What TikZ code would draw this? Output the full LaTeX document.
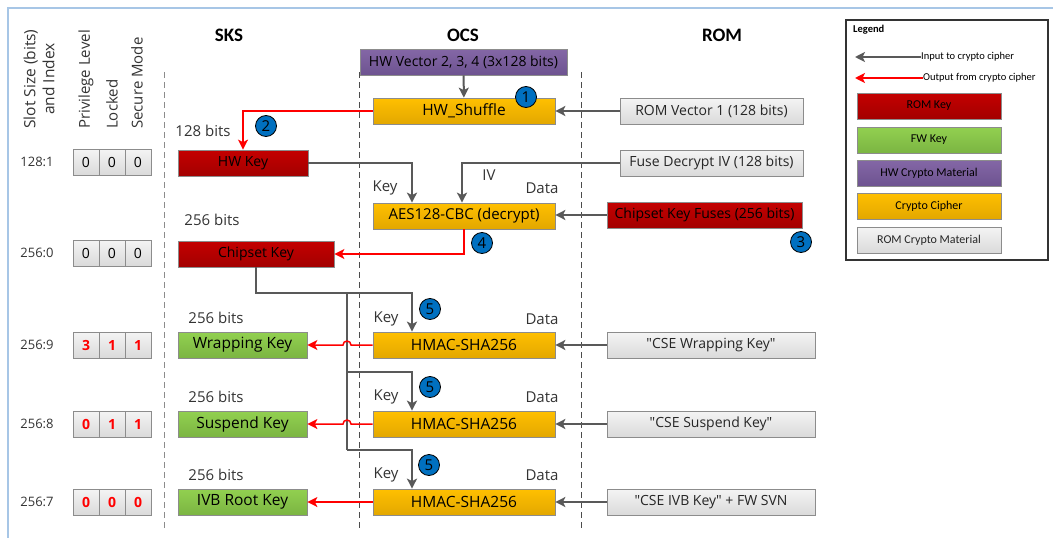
\documentclass[tikz,border=0pt]{standalone}
\usepackage{fontspec}
\setmainfont{Open Sans}
\newfontfamily\calib{Carlito}
\newfontfamily\plainfont{Open Sans}[Ligatures=TeXOff]
\usetikzlibrary{arrows.meta}
\definecolor{orngA}{HTML}{FFC000}
\definecolor{orngB}{HTML}{E3A700}
\definecolor{redA}{HTML}{C40000}
\definecolor{redB}{HTML}{A30000}
\definecolor{grnA}{HTML}{92D050}
\definecolor{grnB}{HTML}{7BB542}
\definecolor{purA}{HTML}{8467A6}
\definecolor{purB}{HTML}{6D5390}
\definecolor{gryA}{HTML}{F4F4F4}
\definecolor{gryB}{HTML}{DADADA}
\definecolor{badgeblue}{HTML}{0070C0}
\definecolor{arrowgray}{HTML}{595959}
\definecolor{framebl}{HTML}{A7C6E6}
\newcommand{\dq}{{\plainfont\symbol{34}}}
\begin{document}
\begin{tikzpicture}[x=1pt,y=-1pt]
        \tikzstyle{box}=[draw=black!45,line width=0.7pt,inner sep=0pt,minimum height=26pt,font=\fontsize{14}{16}\selectfont]
        \tikzstyle{cipher}=[box,top color=orngA,bottom color=orngB,minimum width=182pt,font=\fontsize{15.5}{18}\selectfont]
        \tikzstyle{romkey}=[box,top color=redA,bottom color=redB,text=black]
        \tikzstyle{fwkey}=[box,top color=grnA,bottom color=grnB,minimum width=129pt,font=\fontsize{15.5}{18}\selectfont]
        \tikzstyle{hwmat}=[box,top color=purA,bottom color=purB]
        \tikzstyle{rommat}=[box,top color=gryA,bottom color=gryB,text=black!85]
        \tikzstyle{flag}=[box,top color=gryA,bottom color=gryB,minimum width=26pt]
        \tikzstyle{hot}=[text=red,font=\fontsize{14}{16}\selectfont\bfseries]
        \tikzstyle{lbl}=[inner sep=0pt,font=\fontsize{15}{18}\selectfont,text=black!80]
        \tikzstyle{rowlbl}=[inner sep=0pt,font=\fontsize{13}{15}\selectfont,text=black!80]
        \tikzstyle{colhdr}=[inner sep=0pt,font=\calib\bfseries\fontsize{19}{22}\selectfont]
        \tikzstyle{vhdr}=[rotate=90,anchor=west,inner sep=0pt,font=\fontsize{15}{17}\selectfont,text=black!80]
        \tikzstyle{badge}=[circle,draw=black,line width=0.8pt,fill=badgeblue,minimum size=21pt,inner sep=0pt,font=\fontsize{15}{17}\selectfont]
        \tikzstyle{inarrow}=[draw=arrowgray,line width=2pt,-{Stealth[length=10pt,width=10pt,inset=2.5pt]}]
        \tikzstyle{outarrow}=[draw=red,line width=1.5pt,-{Stealth[length=10pt,width=10pt,inset=2.5pt]}]
        \tikzstyle{feed}=[draw=arrowgray,line width=2pt]
        \tikzstyle{lane}=[draw=black!70,line width=0.8pt,dash pattern=on 6pt off 4pt]
        \tikzstyle{legtxt}=[inner sep=0pt,font=\calib\fontsize{10.5}{12}\selectfont]
        \tikzstyle{legbox}=[minimum width=144pt,font=\calib\fontsize{12}{14}\selectfont]
        \useasboundingbox (0,0) rectangle (1053,538);
        \draw[framebl,line width=2pt] (8,538) -- (8,8) -- (1053,8);
        \draw[lane,draw=black!45] (164,72) -- (164,528);
        \draw[lane] (359,72) -- (359,528);
        \draw[lane] (581,72) -- (581,528);

        \node [rotate=90,align=center,inner sep=0pt,font=\fontsize{15.5}{19}\selectfont,text=black!80] (slothdr) at (39,79) {Slot Size (bits)\\and Index};
        \node [vhdr] (privhdr) at (86,129) {Privilege Level};
        \node [vhdr] (lockhdr) at (112,129) {Locked};
        \node [vhdr] (securehdr) at (137,129) {Secure Mode};
        \node [colhdr] (skshdr) at (229,35) {SKS};
        \node [colhdr] (ocshdr) at (463,35) {OCS};
        \node [colhdr] (romhdr) at (722,35) {ROM};

        \node [rowlbl] (row1) at (37,162) {128:1};
        \node [flag] (f1a) at (86,162) {0};
        \node [flag] (f1b) at (112,162) {0};
        \node [flag] (f1c) at (138,162) {0};
        \node [rowlbl] (row2) at (37,253) {256:0};
        \node [flag] (f2a) at (86,253) {0};
        \node [flag] (f2b) at (112,253) {0};
        \node [flag] (f2c) at (138,253) {0};
        \node [rowlbl] (row3) at (37,345) {256:9};
        \node [flag,hot] (f3a) at (86,345) {3};
        \node [flag,hot] (f3b) at (112,345) {1};
        \node [flag,hot] (f3c) at (138,345) {1};
        \node [rowlbl] (row4) at (37,424) {256:8};
        \node [flag,hot] (f4a) at (86,424) {0};
        \node [flag,hot] (f4b) at (112,424) {1};
        \node [flag,hot] (f4c) at (138,424) {1};
        \node [rowlbl] (row5) at (37,502) {256:7};
        \node [flag,hot] (f5a) at (86,502) {0};
        \node [flag,hot] (f5b) at (112,502) {0};
        \node [flag,hot] (f5c) at (138,502) {0};

        \node [hwmat,minimum width=207pt] (hwvec) at (463.5,62) {HW Vector 2, 3, 4 (3x128 bits)};
        \node [cipher] (shuffle) at (464,111) {HW\_Shuffle};
        \node [cipher,font=\fontsize{15}{18}\selectfont] (aes) at (464,216) {AES128-CBC (decrypt)};
        \node [cipher] (hmac1) at (464,345) {HMAC-SHA256};
        \node [cipher] (hmac2) at (464,424) {HMAC-SHA256};
        \node [cipher] (hmac3) at (464,502) {HMAC-SHA256};

        \node [romkey,minimum width=130pt] (hwkey) at (243,163) {HW Key};
        \node [romkey,minimum width=156pt] (chipset) at (256,254) {Chipset Key};
        \node [fwkey] (wrapkey) at (242.5,345) {Wrapping Key};
        \node [fwkey] (suspkey) at (242.5,424) {Suspend Key};
        \node [fwkey] (ivbkey) at (242.5,502) {IVB Root Key};

        \node [rommat,minimum width=183pt] (romvec) at (711.5,111) {ROM Vector 1 (128 bits)};
        \node [rommat,minimum width=183pt] (fuseiv) at (711.5,163) {Fuse Decrypt IV (128 bits)};
        \node [romkey,minimum width=195pt] (fusekey) at (704.5,215) {Chipset Key Fuses (256 bits)};
        \node [rommat,minimum width=208pt] (cse1) at (711,345) {\dq CSE Wrapping Key\dq};
        \node [rommat,minimum width=208pt] (cse2) at (711,424) {\dq CSE Suspend Key\dq};
        \node [rommat,minimum width=208pt] (cse3) at (711,502) {\dq CSE IVB Key\dq{} + FW SVN};

        \node [lbl] (bits1) at (203,131) {128 bits};
        \node [lbl] (bits2) at (212,220) {256 bits};
        \node [lbl] (bits3) at (216,318) {256 bits};
        \node [lbl] (bits4) at (216,397) {256 bits};
        \node [lbl] (bits5) at (216,475) {256 bits};
        \node [lbl] (aeskey) at (385,188) {Key};
        \node [lbl] (aesiv) at (489,175) {IV};
        \node [lbl] (aesdata) at (542,188) {Data};
        \node [lbl] (key1) at (386,319) {Key};
        \node [lbl] (data1) at (542,319) {Data};
        \node [lbl] (key2) at (386,397) {Key};
        \node [lbl] (data2) at (542,397) {Data};
        \node [lbl] (key3) at (386,475) {Key};
        \node [lbl] (data3) at (542,475) {Data};

        \path[inarrow] (hwvec) -- (shuffle);
        \path[inarrow] (romvec) -- (shuffle);
        \path[outarrow] (shuffle.west) -| (hwkey.north);
        \path[inarrow] (hwkey.east) -| ([xshift=-52]aes.north);
        \path[inarrow] (fuseiv.west) -| ([xshift=-2]aes.north);
        \path[inarrow] (fusekey.west) -- (aes.east |- fusekey.west);
        \path[outarrow] (aes.south) |- (chipset.east);

        \coordinate (split1) at (347,293);
        \coordinate (split2) at (347,372);
        \coordinate (split3) at (347,450);
        \path[inarrow] (chipset.south) |- (split1) -| ([xshift=-52]hmac1.north);
        \path[feed] (split1) -- (split3);
        \path[inarrow] (split2) -| ([xshift=-52]hmac2.north);
        \path[inarrow] (split3) -| ([xshift=-52]hmac3.north);

        \path[outarrow] (hmac1.west) -- ([xshift=4]hmac1.west -| split1) arc (0:-180:4) -- (wrapkey.east);
        \path[outarrow] (hmac2.west) -- ([xshift=4]hmac2.west -| split1) arc (0:-180:4) -- (suspkey.east);
        \path[outarrow] (hmac3.west) -- (ivbkey.east);
        \path[inarrow] (cse1) -- (hmac1);
        \path[inarrow] (cse2) -- (hmac2);
        \path[inarrow] (cse3) -- (hmac3);

        \node [badge] (n1) at (526,97) {1};
        \node [badge] (n2) at (266,126) {2};
        \node [badge] (n3) at (801,242) {3};
        \node [badge] (n4) at (482,243) {4};
        \node [badge] (n5a) at (430,309) {5};
        \node [badge] (n5b) at (430,387) {5};
        \node [badge] (n5c) at (429,465) {5};

        \node [draw=black!80,line width=1.2pt,minimum width=202pt,minimum height=240pt] (legend) at (947,140) {};
        \node [legtxt,anchor=west,font=\calib\bfseries\fontsize{10.5}{12}\selectfont] (legtitle) at (853,30) {Legend};
        \node [legtxt,anchor=west] (legin) at (921,57) {Input to crypto cipher};
        \node [legtxt,anchor=west] (legout) at (923,78) {Output from crypto cipher};
        \coordinate (leginend) at (855,57);
        \coordinate (legoutend) at (855,78);
        \path[inarrow] (legin.west) -- (leginend);
        \path[outarrow] (legout.west) -- (legoutend);
        \node [romkey,legbox] (legrom) at (929,106) {ROM Key};
        \node [fwkey,legbox] (legfw) at (929,140) {FW Key};
        \node [hwmat,legbox] (leghw) at (929,173) {HW Crypto Material};
        \node [cipher,legbox] (legcipher) at (929,206) {Crypto Cipher};
        \node [rommat,legbox] (legmat) at (929,240) {ROM Crypto Material};
\end{tikzpicture}
\end{document}
